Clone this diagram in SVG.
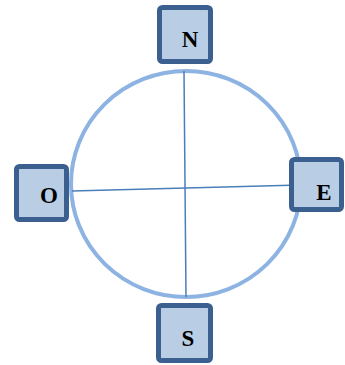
<svg xmlns="http://www.w3.org/2000/svg" width="345" height="365" viewBox="0 0 345 365">
<style>
.box{fill:#b9cde5;stroke:#3b5f8f;stroke-width:5}
.lbl{font-family:"Liberation Serif",serif;font-weight:bold;font-size:23px;fill:#000;text-anchor:middle}
.ln{stroke:#4a7ebb;stroke-width:1.5;fill:none}
</style>
<rect width="345" height="365" fill="#fff"/>
<g id="connectors">
<ellipse cx="186" cy="184" rx="115" ry="113" fill="none" stroke="#8db3e2" stroke-width="4"/>
<line class="ln" x1="184" y1="71" x2="186" y2="297"/>
<line class="ln" x1="72" y1="191" x2="300" y2="185"/>
</g>
<g id="N"><rect class="box" x="159.5" y="7.5" width="51" height="54" rx="3"/><text class="lbl" x="190" y="47">N</text></g>
<g id="O"><rect class="box" x="16.5" y="166.5" width="50" height="53" rx="3"/><text class="lbl" x="49" y="203">O</text></g>
<g id="E"><rect class="box" x="291.5" y="159.5" width="50" height="50" rx="3"/><text class="lbl" x="324" y="200">E</text></g>
<g id="S"><rect class="box" x="158.5" y="305.5" width="52" height="55" rx="3"/><text class="lbl" x="188" y="346">S</text></g>
</svg>
